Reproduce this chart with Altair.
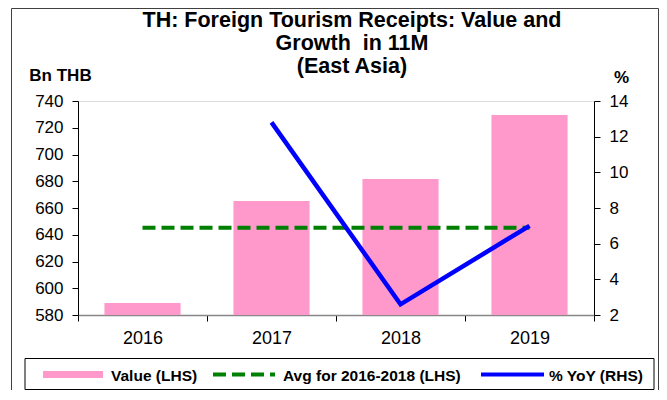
import altair as alt
import pandas as pd

# ---- data ----
years = ["2016", "2017", "2018", "2019"]
value_lhs = [589.0, 665.2, 681.7, 729.5]          # Bn THB (bars)
avg_2016_2018 = [645.3, 645.3, 645.3, 645.3]      # Bn THB (dashed line)
yoy_rhs = [None, 12.8, 2.6, 7.0]                  # % YoY (right axis)

left_ticks = [580, 600, 620, 640, 660, 680, 700, 720, 740]
right_ticks = [2, 4, 6, 8, 10, 12, 14]
title_lines = ["TH: Foreign Tourism Receipts: Value and", "Growth\u00a0 in 11M", "(East Asia)"]
legend_labels = ["Value (LHS)", "Avg for 2016-2018 (LHS)", "% YoY (RHS)"]

FONT = "Liberation Sans"
PINK = "#FF99CC"
GREEN = "#008000"
BLUE = "#0000FF"
W, H = 516, 214

df = pd.DataFrame({"year": years, "value": value_lhs, "avg": avg_2016_2018, "yoy": yoy_rhs})
one = pd.DataFrame({"k": [0]})

x_enc = alt.X(
    "year:N", sort=years,
    scale=alt.Scale(paddingInner=0, paddingOuter=0),
    axis=alt.Axis(title=None, labelAngle=0, tickBand="extent", domainColor="#888888",
                  domainWidth=1.5, tickColor="black", tickSize=6, labelFontSize=18,
                  labelPadding=8, labelColor="black", labelFont=FONT, grid=False),
)

left_axis = alt.Axis(title="Bn THB", values=left_ticks, orient="left", grid=False,
                     domainColor="black", tickColor="black", tickSize=6,
                     labelFont=FONT, labelFontSize=17, labelColor="black", labelPadding=9,
                     titleFont=FONT, titleFontSize=17, titleFontWeight="bold", titleColor="black",
                     titleAngle=0, titleAlign="center", titleBaseline="alphabetic",
                     titleX=-18, titleY=-21)
left_scale = alt.Scale(domain=[580, 740], nice=False, zero=False)

base = alt.Chart(df)

bars = base.mark_bar(color=PINK, width=alt.RelativeBandSize(0.59), clip=True).encode(
    x=x_enc,
    y=alt.Y("value:Q", scale=left_scale, axis=left_axis),
)
avg = base.mark_line(color=GREEN, strokeWidth=4, strokeDash=[13, 6]).encode(
    x=x_enc,
    y=alt.Y("avg:Q", scale=left_scale, axis=left_axis),
)
yoy = base.transform_filter("isValid(datum.yoy)").mark_line(color=BLUE, strokeWidth=4.5).encode(
    x=x_enc,
    y=alt.Y("yoy:Q", scale=alt.Scale(domain=[2, 14], nice=False, zero=False),
            axis=alt.Axis(title="%", values=right_ticks, orient="right", grid=False,
                          domainColor="black", tickColor="black", tickSize=6,
                          labelFont=FONT, labelFontSize=17, labelColor="black", labelPadding=9,
                          titleFont=FONT, titleFontSize=17, titleFontWeight="bold",
                          titleColor="black", titleAngle=0, titleAlign="center",
                          titleBaseline="alphabetic", titleX=27, titleY=-19)),
)

data_layer = alt.layer(alt.layer(bars, avg), yoy).resolve_scale(y="independent")

deco = alt.Chart(one)
# outer frame
frame_left = deco.mark_rule(color="#404040", strokeWidth=1).encode(
    x=alt.value(-66.5), y=alt.value(-92.5), y2=alt.value(300))
frame_right = deco.mark_rule(color="#404040", strokeWidth=1).encode(
    x=alt.value(580.5), y=alt.value(-92.5), y2=alt.value(300))
frame_top = deco.mark_rule(color="#404040", strokeWidth=1).encode(
    x=alt.value(-66.5), x2=alt.value(580.5), y=alt.value(-92.5))

# titles
title_marks = [
    deco.mark_text(font=FONT, fontSize=21.5, fontWeight="bold", color="black",
                   align="center", baseline="alphabetic").encode(
        x=alt.value(274), y=alt.value(yy), text=alt.value(t))
    for t, yy in zip(title_lines, [-74, -51, -28])
]

# legend
LY = 273.5
legend_box = deco.mark_rect(fill="white", stroke="black", strokeWidth=1).encode(
    x=alt.value(-53), x2=alt.value(576), y=alt.value(257.5), y2=alt.value(288.5))
leg_bar = deco.mark_rect(color=PINK).encode(
    x=alt.value(-35), x2=alt.value(25), y=alt.value(LY - 3.5), y2=alt.value(LY + 3.5))
leg_avg = deco.mark_rule(color=GREEN, strokeWidth=4, strokeDash=[13, 6]).encode(
    x=alt.value(135), x2=alt.value(197), y=alt.value(LY))
leg_yoy = deco.mark_rule(color=BLUE, strokeWidth=4).encode(
    x=alt.value(403), x2=alt.value(466), y=alt.value(LY))
leg_texts = [
    deco.mark_text(font=FONT, fontSize=15.5, fontWeight="bold", color="black",
                   align="left", baseline="middle").encode(
        x=alt.value(xx), y=alt.value(LY + 1), text=alt.value(t))
    for t, xx in zip(legend_labels, [33, 205, 471])
]

chart = alt.layer(
    data_layer, frame_left, frame_right, frame_top, *title_marks,
    legend_box, leg_bar, leg_avg, leg_yoy, *leg_texts,
).properties(
    width=W, height=H,
    autosize=alt.AutoSizeParams(type="none"),
    padding={"left": 70, "top": 93, "right": 65, "bottom": 75},
).configure_view(stroke=None).configure(background="white")

chart.save("out.html", embed_options={"renderer": "svg", "actions": False})
